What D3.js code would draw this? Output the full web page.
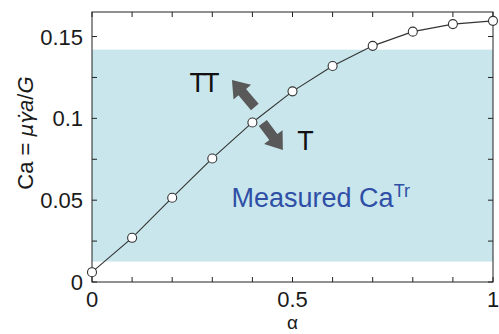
<!DOCTYPE html>
<html>
<head>
<meta charset="utf-8">
<script src="https://cdn.jsdelivr.net/npm/d3@7"></script>
<style>
  body { margin: 0; background: #fff; }
  svg { display: block; font-family: "Liberation Sans", Arial, sans-serif; }
</style>
</head>
<body>
<script>
// data
const alpha = [0, 0.1, 0.2, 0.3, 0.4, 0.5, 0.6, 0.7, 0.8, 0.9, 1.0];
const ca = [0.006, 0.027, 0.0515, 0.0755, 0.0975, 0.1165, 0.132, 0.1443, 0.153, 0.1576, 0.1596];
const band = [0.0125, 0.142]; // measured Ca^Tr range
const xTicks = [0, 0.5, 1];
const xTickLabels = ["0", "0.5", "1"];
const yTicks = [0, 0.05, 0.1, 0.15];
const yTickLabels = ["0", "0.05", "0.1", "0.15"];
// arrows, tail -> tip, in data units
const arrows = [
  { name: "TT", from: [0.406, 0.107], to: [0.349, 0.1235] },
  { name: "T", from: [0.426, 0.0972], to: [0.476, 0.0807] }
];

const width = 499, height = 334;
const margin = { top: 12, right: 6, bottom: 52, left: 92 };
const x = d3.scaleLinear().domain([0, 1]).range([margin.left, width - margin.right]);
const y = d3.scaleLinear().domain([0, 0.165]).range([height - margin.bottom, margin.top]);

const svg = d3.select("body").append("svg")
  .attr("width", width).attr("height", height)
  .attr("viewBox", [0, 0, width, height]);

// shaded band
svg.append("rect")
  .attr("x", x(0)).attr("width", x(1) - x(0))
  .attr("y", y(band[1])).attr("height", y(band[0]) - y(band[1]))
  .attr("fill", "#c8e6ec");

// frame + inward ticks on all four sides
const tickLen = 5;
const xAll = d3.range(0, 1.0001, 0.1);
const yAll = d3.range(0, 0.1501, 0.025);
const frame = svg.append("g").attr("stroke", "#222").attr("stroke-width", 1);
frame.selectAll(".xt").data(xAll).join("line")
  .attr("x1", d => x(d)).attr("x2", d => x(d))
  .attr("y1", y(0)).attr("y2", y(0) - tickLen);
frame.selectAll(".xtt").data(xAll).join("line")
  .attr("x1", d => x(d)).attr("x2", d => x(d))
  .attr("y1", y.range()[1]).attr("y2", y.range()[1] + tickLen);
frame.selectAll(".yt").data(yAll).join("line")
  .attr("y1", d => y(d)).attr("y2", d => y(d))
  .attr("x1", x(0)).attr("x2", x(0) + tickLen);
frame.selectAll(".ytr").data(yAll).join("line")
  .attr("y1", d => y(d)).attr("y2", d => y(d))
  .attr("x1", x(1)).attr("x2", x(1) - tickLen);
frame.append("rect")
  .attr("x", x(0)).attr("y", y.range()[1])
  .attr("width", x(1) - x(0)).attr("height", y(0) - y.range()[1])
  .attr("fill", "none");

// tick labels
svg.append("g").selectAll("text").data(xTicks).join("text")
  .attr("x", d => x(d)).attr("y", y(0) + 25)
  .attr("text-anchor", "middle")
  .attr("font-size", 22).attr("fill", "#1a1a1a")
  .text((d, i) => xTickLabels[i]);
svg.append("g").selectAll("text").data(yTicks).join("text")
  .attr("x", x(0) - 9).attr("y", d => y(d) + 8)
  .attr("text-anchor", "end")
  .attr("font-size", 22).attr("fill", "#1a1a1a")
  .text((d, i) => yTickLabels[i]);

// axis titles
svg.append("text")
  .attr("x", (x(0) + x(1)) / 2).attr("y", height - 5)
  .attr("text-anchor", "middle").attr("font-size", 19).attr("fill", "#1a1a1a")
  .text("α");
const yl = svg.append("text")
  .attr("transform", `translate(33,${(y(0) + y.range()[1]) / 2 - 14}) rotate(-90)`)
  .attr("text-anchor", "middle").attr("font-size", 22).attr("fill", "#1a1a1a");
yl.append("tspan").text("Ca = ");
yl.append("tspan").attr("font-style", "italic").attr("font-family", "DejaVu Sans").attr("font-size", 20).text("μγ̇");
yl.append("tspan").attr("font-style", "italic").text("a");
yl.append("tspan").text("/");
yl.append("tspan").attr("font-style", "italic").text("G");

// band label
const ml = svg.append("text")
  .attr("x", x(0.348)).attr("y", y(0.0458))
  .attr("font-size", 27).attr("fill", "#2f4fa6");
ml.append("tspan").text("Measured Ca");
ml.append("tspan").attr("font-size", 18).attr("dy", -10).text("Tr");

// thick grey arrows
function arrowPath(a) {
  const x0 = x(a.from[0]), y0 = y(a.from[1]), x1 = x(a.to[0]), y1 = y(a.to[1]);
  const dx = x1 - x0, dy = y1 - y0, L = Math.hypot(dx, dy);
  const ux = dx / L, uy = dy / L, px = -uy, py = ux;
  const sw = 5, hw = 11.5, hl = 16;
  const bx = x1 - ux * hl, by = y1 - uy * hl;
  const pts = [
    [x0 + px * sw, y0 + py * sw], [bx + px * sw, by + py * sw], [bx + px * hw, by + py * hw],
    [x1, y1], [bx - px * hw, by - py * hw], [bx - px * sw, by - py * sw], [x0 - px * sw, y0 - py * sw]
  ];
  return "M" + pts.map(p => p.join(",")).join("L") + "Z";
}
svg.append("g").selectAll("path").data(arrows).join("path")
  .attr("d", arrowPath).attr("fill", "#595959");

svg.append("text").attr("x", x(0.243)).attr("y", y(0.1163))
  .attr("font-size", 27).attr("fill", "#111").attr("letter-spacing", -3).text("TT");
svg.append("text").attr("x", x(0.512)).attr("y", y(0.0805))
  .attr("font-size", 27).attr("fill", "#111").text("T");

// curve with open markers
const line = d3.line().x((d, i) => x(alpha[i])).y(d => y(d));
svg.append("path").datum(ca).attr("d", line)
  .attr("fill", "none").attr("stroke", "#333").attr("stroke-width", 1.1);
svg.append("g").selectAll("circle").data(ca).join("circle")
  .attr("cx", (d, i) => x(alpha[i])).attr("cy", d => y(d)).attr("r", 4.5)
  .attr("fill", "#fff").attr("stroke", "#333").attr("stroke-width", 1.1);
</script>
</body>
</html>
